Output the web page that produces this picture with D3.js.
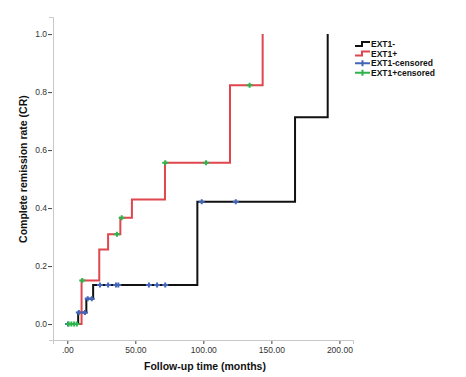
<!DOCTYPE html>
<html>
<head>
<meta charset="utf-8">
<script src="https://cdn.jsdelivr.net/npm/d3@7"></script>
<style>
  body { margin: 0; background: #fff; }
  svg text { font-family: Arial, "Liberation Sans", sans-serif; }
  .tick-label { font-size: 8.5px; fill: #333; }
  .axis-title { font-size: 10.5px; font-weight: bold; fill: #111; }
  .legend-text { font-size: 8.5px; font-weight: bold; fill: #111; }
</style>
</head>
<body>
<div id="chart"></div>
<script>
// step curves (time in months, cumulative CR)
const ext1NegTimes = [0, 8, 14, 19, 95.6, 167.4, 191.4];
const ext1NegValues = [0, 0.04, 0.087, 0.135, 0.422, 0.713, 1.0];
const ext1PosTimes = [0, 10.5, 23.5, 30, 39, 47.5, 71.8, 119.6, 143.6];
const ext1PosValues = [0, 0.15, 0.257, 0.31, 0.367, 0.43, 0.556, 0.824, 1.0];

// censored marks
const ext1NegCensTimes = [0.5, 8.5, 13, 15, 18, 24, 30, 35.8, 37.5, 60, 66, 72, 98.8, 123.8];
const ext1NegCensValues = [0, 0.04, 0.04, 0.087, 0.087, 0.135, 0.135, 0.135, 0.135, 0.135, 0.135, 0.135, 0.422, 0.422];
const ext1PosCensTimes = [1, 3, 5, 7, 11, 36.5, 40, 72, 102, 134];
const ext1PosCensValues = [0, 0, 0, 0, 0.15, 0.31, 0.367, 0.556, 0.556, 0.824];

const xTicks = [0, 50, 100, 150, 200];
const xTickLabels = ['.00', '50.00', '100.00', '150.00', '200.00'];
const yTicks = [0, 0.2, 0.4, 0.6, 0.8, 1.0];
const legendLabels = ['EXT1-', 'EXT1+', 'EXT1-censored', 'EXT1+censored'];

const colors = { neg: '#111111', pos: '#e0464d', negCens: '#4466b8', posCens: '#2fb34c' };

const width = 466;
const height = 377;
const margin = { left: 53, top: 17, right: 113, bottom: 37 };

const svg = d3.select('#chart').append('svg')
  .attr('width', width)
  .attr('height', height);

const x = d3.scaleLinear()
  .domain([-10.5, 210])
  .range([margin.left, width - margin.right]);

const y = d3.scaleLinear()
  .domain([-0.055, 1.059])
  .range([height - margin.bottom, margin.top]);

// axes
const xAxis = d3.axisBottom(x)
  .tickValues(xTicks)
  .tickSize(4)
  .tickPadding(3)
  .tickFormat((d, i) => xTickLabels[i]);

const yAxis = d3.axisLeft(y)
  .tickValues(yTicks)
  .tickSize(4)
  .tickPadding(2)
  .tickFormat(d3.format('.1f'));

const gx = svg.append('g')
  .attr('transform', `translate(0, ${y.range()[0]})`)
  .call(xAxis);

const gy = svg.append('g')
  .attr('transform', `translate(${x.range()[0]}, 0)`)
  .call(yAxis);

[gx, gy].forEach((g) => {
  g.select('.domain').attr('stroke', '#c8c8c8');
  g.selectAll('.tick line').attr('stroke', '#444');
  g.selectAll('.tick text').attr('class', 'tick-label').attr('fill', null);
});
gx.selectAll('.tick line').attr('y1', 1);
gy.selectAll('.tick line').attr('x1', -1).attr('x2', -5);

// titles
svg.append('text')
  .attr('class', 'axis-title')
  .attr('x', (x.range()[0] + x.range()[1]) / 2 + 2)
  .attr('y', 370)
  .attr('text-anchor', 'middle')
  .text('Follow-up time (months)');

svg.append('text')
  .attr('class', 'axis-title')
  .attr('transform', `translate(27, ${y(0.5) - 10}) rotate(-90)`)
  .attr('text-anchor', 'middle')
  .text('Complete remission rate (CR)');

// step lines
const line = d3.line()
  .x((d) => x(d[0]))
  .y((d) => y(d[1]))
  .curve(d3.curveStepAfter);

const series = [
  { times: ext1NegTimes, values: ext1NegValues, color: colors.neg },
  { times: ext1PosTimes, values: ext1PosValues, color: colors.pos },
];

series.forEach((s) => {
  svg.append('path')
    .datum(d3.zip(s.times, s.values))
    .attr('fill', 'none')
    .attr('stroke', s.color)
    .attr('stroke-width', 2)
    .attr('d', line);
});

// censor crosses
const censors = [
  { times: ext1NegCensTimes, values: ext1NegCensValues, color: colors.negCens },
  { times: ext1PosCensTimes, values: ext1PosCensValues, color: colors.posCens },
];

censors.forEach((c) => {
  const g = svg.append('g');
  const pts = d3.zip(c.times, c.values);
  g.selectAll('path')
    .data(pts)
    .enter()
    .append('path')
    .attr('d', (d) => {
      const px = x(d[0]);
      const py = y(d[1]);
      return `M${px - 3},${py}H${px + 3}M${px},${py - 2.5}V${py + 2.5}`;
    })
    .attr('stroke', c.color)
    .attr('stroke-width', 2)
    .attr('fill', 'none');
});

// legend
const legend = svg.append('g')
  .attr('transform', 'translate(355, 44)');

const legendColors = [colors.neg, colors.pos, colors.negCens, colors.posCens];

legendLabels.forEach((label, i) => {
  const row = legend.append('g')
    .attr('transform', `translate(0, ${i * 9.6})`);

  if (i < 2) {
    row.append('path')
      .attr('d', 'M0,2H7V-2H15')
      .attr('fill', 'none')
      .attr('stroke', legendColors[i])
      .attr('stroke-width', 2);
  } else {
    row.append('path')
      .attr('d', 'M0,0H15M7.5,-3V3')
      .attr('fill', 'none')
      .attr('stroke', legendColors[i])
      .attr('stroke-width', 2);
  }

  row.append('text')
    .attr('class', 'legend-text')
    .attr('x', 16)
    .attr('y', 3)
    .text(label);
});
</script>
</body>
</html>
